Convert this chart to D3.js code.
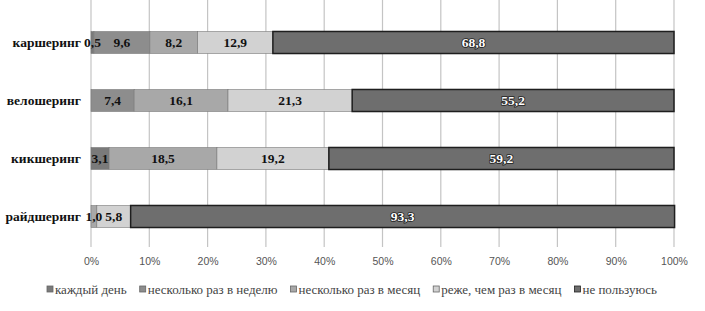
<!DOCTYPE html>
<html>
<head>
<meta charset="utf-8">
<script src="https://cdn.jsdelivr.net/npm/d3@7"></script>
<style>
  body { margin: 0; background: #fff; }
  svg { display: block; }
  .serif { font-family: "Liberation Serif", "Times New Roman", serif; }
  .sans { font-family: "Liberation Sans", Arial, sans-serif; }
</style>
</head>
<body>
<div id="chart"></div>
<script>
// categories (top to bottom)
const categories = ["каршеринг", "велошеринг", "кикшеринг", "райдшеринг"];
const seriesNames = ["каждый день", "несколько раз в неделю", "несколько раз в месяц", "реже, чем раз в месяц", "не пользуюсь"];
// values per series, in category order
const everyDay   = [0.5, 0,    3.1,  0];
const perWeek    = [9.6, 7.4,  0,    0];
const perMonth   = [8.2, 16.1, 18.5, 1.0];
const rarely     = [12.9, 21.3, 19.2, 5.8];
const notUsing   = [68.8, 55.2, 59.2, 93.3];
const tickValues = [0, 10, 20, 30, 40, 50, 60, 70, 80, 90, 100];

const series = [everyDay, perWeek, perMonth, rarely, notUsing];
const colors = ["#7a7a7a", "#8d8d8d", "#a8a8a8", "#d2d2d2", "#6e6e6e"];

const width = 705, height = 311;
const margin = {left: 91, right: 31};

const svg = d3.select("#chart").append("svg")
  .attr("width", width)
  .attr("height", height);

const x = d3.scaleLinear().domain([0, 100]).range([margin.left, width - margin.right]);
const y = d3.scaleBand().domain(categories).range([13.5, 245.5]).paddingInner(0.62).paddingOuter(0.31);

// gridlines
svg.append("g")
  .selectAll("line")
  .data(tickValues)
  .join("line")
    .attr("x1", d => x(d)).attr("x2", d => x(d))
    .attr("y1", 0).attr("y2", 247)
    .attr("stroke", "#c4c4c4")
    .attr("stroke-width", 1.2);

// stacked data
const rows = categories.map((c, i) => {
  const r = {category: c};
  seriesNames.forEach((s, j) => r[s] = series[j][i]);
  return r;
});
const stacked = d3.stack().keys(seriesNames)(rows);

// flat list of non-empty segments
const segments = [];
stacked.forEach(layer => {
  layer.forEach(p => {
    if (p[1] - p[0] > 0) segments.push({s: layer.index, x0: p[0], x1: p[1], category: p.data.category});
  });
});

svg.append("g")
  .selectAll("rect")
  .data(segments)
  .join("rect")
    .attr("x", d => x(d.x0))
    .attr("y", d => y(d.category))
    .attr("width", d => x(d.x1) - x(d.x0))
    .attr("height", y.bandwidth())
    .attr("fill", d => colors[d.s])
    .attr("stroke", d => d.s === 4 ? "#1e1e1e" : "#7a7a7a")
    .attr("stroke-width", d => d.s === 4 ? 1.5 : 0.6);

// value labels, drawn above all bars
const fmt = v => d3.format(".1f")(v).replace(".", ",");
svg.append("g")
  .selectAll("text")
  .data(segments)
  .join("text")
    .attr("class", "serif")
    .attr("x", d => (x(d.x0) + x(d.x1)) / 2)
    .attr("y", d => y(d.category) + y.bandwidth() / 2)
    .attr("dy", "0.36em")
    .attr("text-anchor", "middle")
    .attr("font-weight", "bold")
    .attr("font-size", 13.5)
    .attr("fill", d => d.s === 4 ? "#ffffff" : "#111111")
    .attr("stroke", d => d.s === 4 ? "#222222" : "none")
    .attr("stroke-width", d => d.s === 4 ? 1.6 : 0)
    .attr("paint-order", "stroke")
    .text(d => fmt(d.x1 - d.x0));

// category labels
svg.append("g")
  .selectAll("text")
  .data(categories)
  .join("text")
    .attr("class", "serif")
    .attr("x", 81)
    .attr("y", d => y(d) + y.bandwidth() / 2)
    .attr("dy", "0.36em")
    .attr("text-anchor", "end")
    .attr("font-weight", "bold")
    .attr("font-size", 13.5)
    .attr("fill", "#111")
    .text(d => d);

// x axis tick labels
const xAxis = svg.append("g")
  .attr("transform", "translate(0,255)")
  .call(d3.axisBottom(x).tickValues(tickValues).tickSize(0).tickFormat(d => d + "%"));
xAxis.select(".domain").remove();
xAxis.attr("font-family", null).attr("font-size", null);
xAxis.selectAll("text")
  .attr("class", "sans")
  .attr("font-size", 10.5)
  .attr("fill", "#555");

// legend
const legend = svg.append("g").attr("transform", "translate(47,290)");
let lx = 0;
seriesNames.forEach((name, i) => {
  const g = legend.append("g").attr("transform", `translate(${lx},0)`);
  g.append("rect")
    .attr("x", 0).attr("y", -4)
    .attr("width", 6).attr("height", 6)
    .attr("fill", colors[i])
    .attr("stroke", i === 4 ? "#222" : "#666")
    .attr("stroke-width", 0.8);
  const t = g.append("text")
    .attr("class", "serif")
    .attr("x", 8)
    .attr("y", 0)
    .attr("dy", "0.33em")
    .attr("font-size", 13)
    .attr("fill", "#444")
    .text(name);
  lx += 8 + t.node().getComputedTextLength() + 13;
});
</script>
</body>
</html>
